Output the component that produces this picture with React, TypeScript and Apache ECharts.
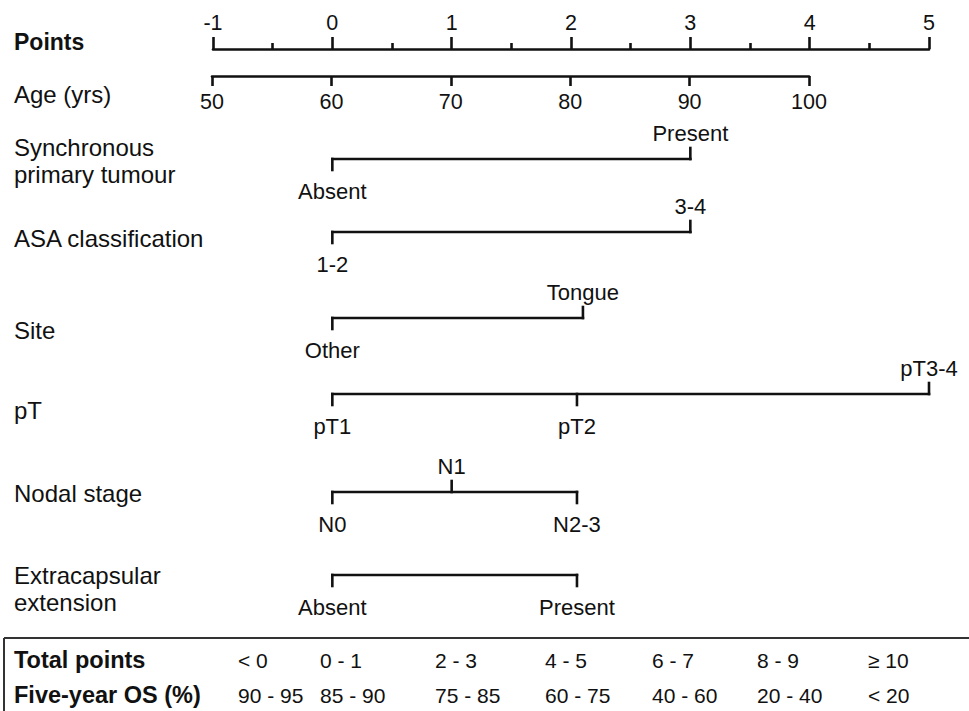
import React, { useEffect, useRef } from "react";
import * as echarts from "echarts";

// ---------- data ----------
const pointsRange = [-1, 5];
const ageRange = [50, 100];

const variableNames = [
  "Synchronous\nprimary tumour",
  "ASA classification",
  "Site",
  "pT",
  "Nodal stage",
  "Extracapsular\nextension",
];

const syncLevels = ["Absent", "Present"];
const syncPoints = [0, 3];
const asaLevels = ["1-2", "3-4"];
const asaPoints = [0, 3];
const siteLevels = ["Other", "Tongue"];
const sitePoints = [0, 2.1];
const ptLevels = ["pT1", "pT2", "pT3-4"];
const ptPoints = [0, 2.05, 5];
const nodalLevels = ["N0", "N1", "N2-3"];
const nodalPoints = [0, 1, 2.05];
const eceLevels = ["Absent", "Present"];
const ecePoints = [0, 2.05];

const totalPointsBands = ["< 0", "0 - 1", "2 - 3", "4 - 5", "6 - 7", "8 - 9", "\u2265 10"];
const fiveYearOS = ["90 - 95", "85 - 90", "75 - 85", "60 - 75", "40 - 60", "20 - 40", "< 20"];

// ---------- layout / style ----------
const W = 969;
const H = 711;
const FONT = '"Liberation Sans", Arial, Helvetica, sans-serif';
const INK = "#111";
const LW = 2.6;
const TICK = 11;
const ABOVE = 26;
const BELOW = 32;
// tick direction per level: 1 = down (label below), -1 = up (label above)
const syncDirs = [1, -1];
const asaDirs = [1, -1];
const siteDirs = [1, -1];
const ptDirs = [1, 1, -1];
const nodalDirs = [1, -1, 1];
const eceDirs = [1, 1];
const rowY = [159, 232, 318, 394, 492, 575];
const nameY = [161, 238, 330, 410, 493, 589];
const tableCols = [238, 320, 435, 545, 652, 757, 868];

const rows = [
  { levels: syncLevels, points: syncPoints, dirs: syncDirs },
  { levels: asaLevels, points: asaPoints, dirs: asaDirs },
  { levels: siteLevels, points: sitePoints, dirs: siteDirs },
  { levels: ptLevels, points: ptPoints, dirs: ptDirs },
  { levels: nodalLevels, points: nodalPoints, dirs: nodalDirs },
  { levels: eceLevels, points: ecePoints, dirs: eceDirs },
];

export default function App() {
  const ref = useRef<HTMLDivElement>(null);

  useEffect(() => {
    if (!ref.current) return;
    const chart = echarts.init(ref.current, undefined, { renderer: "svg", width: W, height: H });

    const lineStyle = { stroke: INK, lineWidth: LW, lineCap: "square" };

    const graphics: any[] = [];
    const addText = (text: string, x: number, y: number, size: number, bold = false) => {
      graphics.push({
        type: "text",
        x,
        y,
        style: {
          text,
          font: `${bold ? "bold " : ""}${size}px ${FONT}`,
          fill: INK,
          textAlign: "left",
          align: "left",
          textVerticalAlign: "middle",
          verticalAlign: "middle",
          lineHeight: 27,
        },
      });
    };
    addText("Points", 14, 42, 23, true);
    addText("Age (yrs)", 14, 94, 24);
    variableNames.forEach((n, i) => addText(n, 14, nameY[i], 24));
    addText("Total points", 14, 660, 23.5, true);
    addText("Five-year OS (%)", 14, 695, 23.5, true);
    totalPointsBands.forEach((t, i) => addText(t, tableCols[i], 660, 21));
    fiveYearOS.forEach((t, i) => addText(t, tableCols[i], 695, 21));
    graphics.push({ type: "line", shape: { x1: 4, y1: 638, x2: W, y2: 638 }, style: { stroke: "#333", lineWidth: 2 } });
    graphics.push({ type: "line", shape: { x1: 4, y1: 638, x2: 4, y2: H }, style: { stroke: "#333", lineWidth: 2 } });

    const option: any = {
      animation: false,
      backgroundColor: "#fff",
      textStyle: { fontFamily: FONT },
      grid: [
        { left: 213, right: 40, top: 0, height: H }, // main rows
        { left: 213, right: 40, top: 0, height: 49 }, // points axis
        { left: 212, right: W - 809, top: 0, height: 76 }, // age axis
      ],
      xAxis: [
        { gridIndex: 0, type: "value", min: pointsRange[0], max: pointsRange[1], show: false },
        {
          gridIndex: 1,
          type: "value",
          min: pointsRange[0],
          max: pointsRange[1],
          interval: 1,
          position: "bottom",
          axisLine: { show: true, lineStyle: { color: INK, width: LW } },
          axisTick: { show: true, inside: true, length: 12, lineStyle: { color: INK, width: LW } },
          minorTick: { show: true, splitNumber: 2, length: 6, lineStyle: { color: INK, width: LW } },
          axisLabel: { inside: true, margin: 15, color: INK, fontSize: 21.5, fontFamily: FONT },
          splitLine: { show: false },
        },
        {
          gridIndex: 2,
          type: "value",
          min: ageRange[0],
          max: ageRange[1],
          interval: 10,
          position: "bottom",
          axisLine: { show: true, lineStyle: { color: INK, width: LW } },
          axisTick: { show: true, inside: false, length: 10, lineStyle: { color: INK, width: LW } },
          axisLabel: { margin: 15, color: INK, fontSize: 21.5, fontFamily: FONT },
          splitLine: { show: false },
        },
      ],
      yAxis: [
        { gridIndex: 0, type: "value", min: 0, max: H, inverse: true, show: false },
        { gridIndex: 1, type: "value", min: 0, max: 1, show: false },
        { gridIndex: 2, type: "value", min: 0, max: 1, show: false },
      ],
      series: [
        {
          type: "custom",
          xAxisIndex: 0,
          yAxisIndex: 0,
          clip: false,
          data: rows.map((r, i) => [r.points[0], rowY[i]]),
          renderItem: (params: any, api: any) => {
            const i = params.dataIndex;
            const r = rows[i];
            const y = rowY[i];
            const pts = r.points.map((p) => api.coord([p, y]));
            const xs = pts.map((p: number[]) => p[0]);
            const children: any[] = [
              {
                type: "line",
                shape: { x1: Math.min(...xs), y1: pts[0][1], x2: Math.max(...xs), y2: pts[0][1] },
                style: lineStyle,
              },
            ];
            r.points.forEach((_, k) => {
              const [cx, cy] = pts[k];
              const d = r.dirs[k];
              children.push({
                type: "line",
                shape: { x1: cx, y1: cy, x2: cx, y2: cy + d * TICK },
                style: lineStyle,
              });
              children.push({
                type: "text",
                x: cx,
                y: cy + (d > 0 ? BELOW : -ABOVE),
                style: {
                  text: r.levels[k],
                  font: `22px ${FONT}`,
                  fill: INK,
                  textAlign: "center",
                  align: "center",
                  textVerticalAlign: "middle",
                  verticalAlign: "middle",
                },
              });
            });
            return { type: "group", children };
          },
        },
      ],
      graphic: { elements: graphics },
    };

    chart.setOption(option);
    return () => chart.dispose();
  }, []);

  return (
    <div
      ref={ref}
      style={{ position: "fixed", left: 0, top: 0, width: W, height: H, background: "#fff" }}
    />
  );
}
